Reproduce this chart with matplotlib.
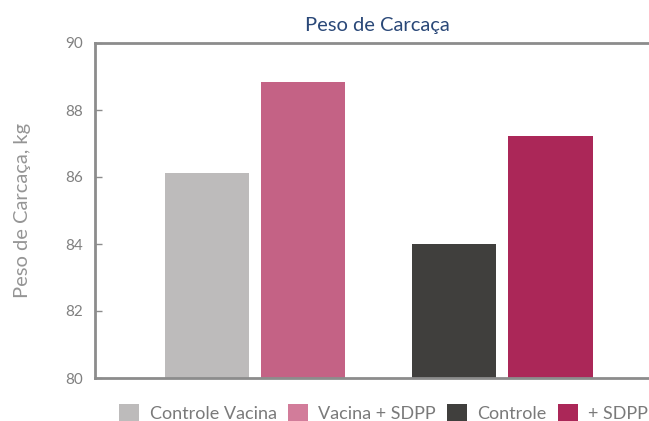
import matplotlib
matplotlib.use("Agg")
import matplotlib.pyplot as plt
from matplotlib.patches import Patch
import numpy as np

plt.rcParams['font.family'] = ['Lato', 'DejaVu Sans']

categories = ["Controle Vacina", "Vacina + SDPP", "Controle", "+ SDPP"]
values = [86.12, 88.84, 84.0, 87.22]
groups = [0, 0, 1, 1]
offsets = [-1, 1, -1, 1]
bar_colors = ["#BDBBBB", "#C46285", "#403F3D", "#AB2758"]
legend_colors = ["#BDBBBB", "#D27C9A", "#403F3D", "#AB2758"]
yticks = [80, 82, 84, 86, 88, 90]

fig = plt.figure(figsize=(6.49, 4.21), dpi=100)
ax = fig.add_axes([95/649, 1 - 378/421, 1 - 95/649 + 0.01, (378-43)/421])

width = 0.341
off = 0.195
x = np.array(groups) + np.array(offsets) * off
ax.bar(x, np.array(values) - 80, bottom=80, width=width, color=bar_colors, zorder=2)

ax.set_xlim(-0.647, 1.62)
ax.set_ylim(80, 90)
ax.set_yticks(yticks)
ax.set_xticks([])
for s in ["left", "top", "bottom"]:
    ax.spines[s].set_color("#8C8C8C")
    ax.spines[s].set_linewidth(2)
ax.spines["right"].set_visible(False)
ax.tick_params(axis='y', direction='in', length=5, width=1, color="#8C8C8C",
               labelsize=11, labelcolor="#808080", pad=9)
ax.set_ylabel("Peso de Carcaça, kg", fontsize=14.5, color="#959595", labelpad=24)
ax.set_title("Peso de Carcaça", fontsize=14.5, color="#2A4878", pad=9,
             x=(377-95)/(649-95+6.49))

handles = [Patch(facecolor=c, edgecolor='none') for c in legend_colors]
leg = fig.legend(handles, categories, loc='lower right', bbox_to_anchor=(1.01, -0.02), ncol=4,
                 frameon=False, fontsize=13, labelcolor="#7A7A7A", handlelength=1.1,
                 handleheight=1.1, handletextpad=0.6, columnspacing=0.6, borderaxespad=0.0)

fig.savefig("out.png", dpi=100)
